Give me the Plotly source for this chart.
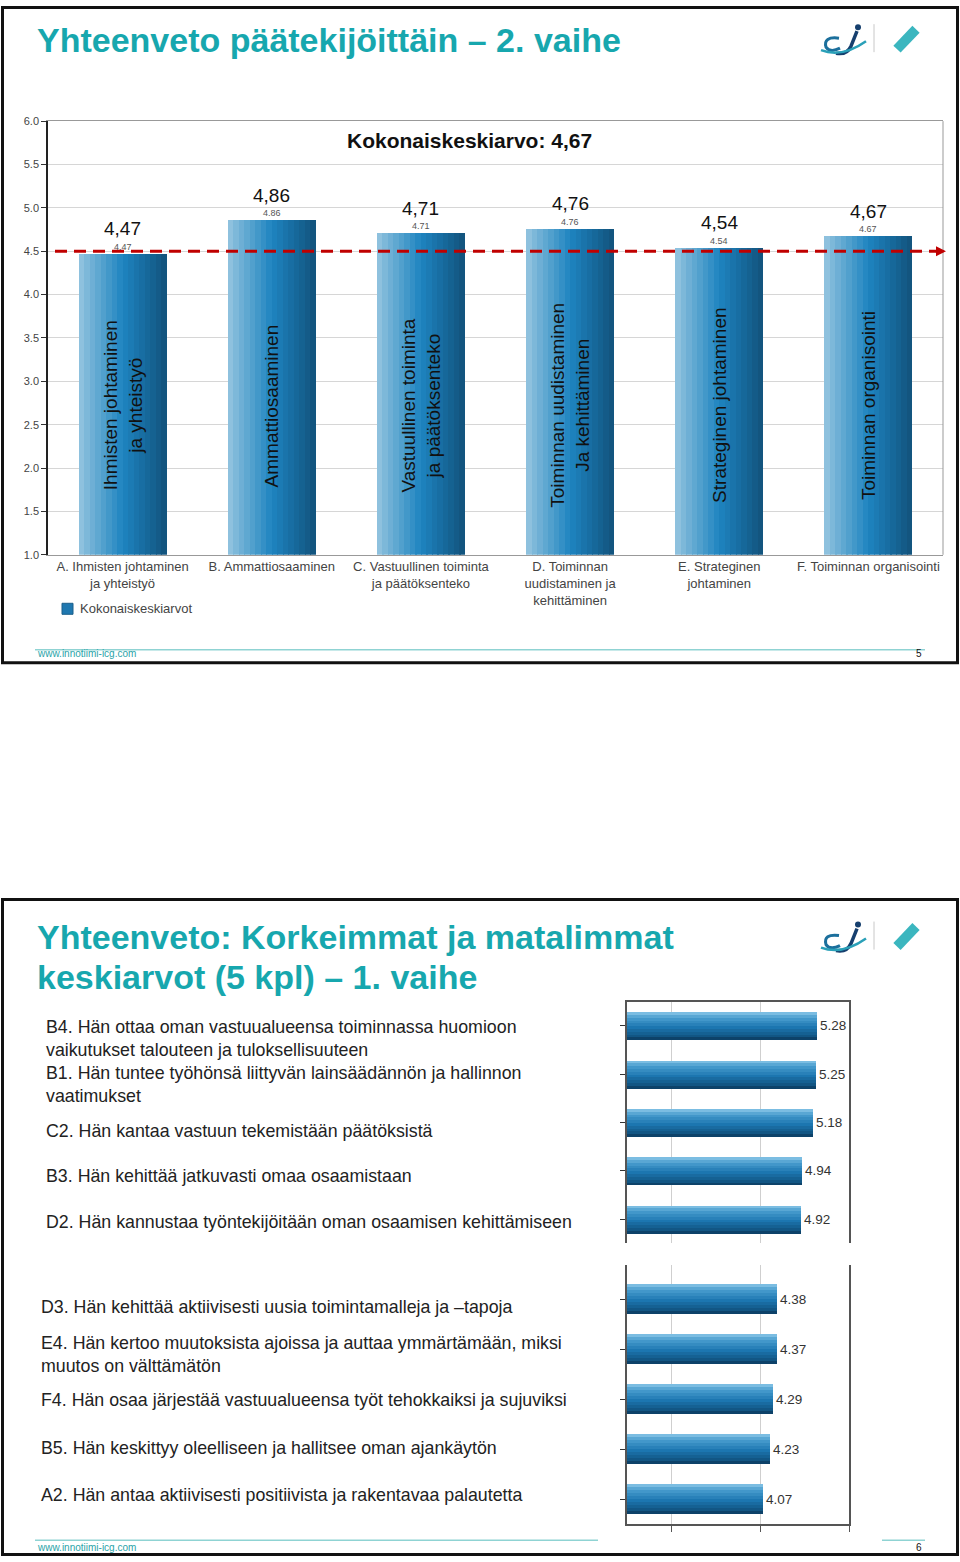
import plotly.graph_objects as go

# ---------------- DATA ----------------
top_categories = [
    "A. Ihmisten johtaminen<br>ja yhteistyö",
    "B. Ammattiosaaminen",
    "C. Vastuullinen toiminta<br>ja päätöksenteko",
    "D. Toiminnan<br>uudistaminen ja<br>kehittäminen",
    "E. Strateginen<br>johtaminen",
    "F. Toiminnan organisointi",
]
top_values = [4.47, 4.86, 4.71, 4.76, 4.54, 4.67]
top_inner_labels = [
    "Ihmisten johtaminen<br>ja yhteistyö",
    "Ammattiosaaminen",
    "Vastuullinen toiminta<br>ja päätöksenteko",
    "Toiminnan uudistaminen<br>Ja kehittäminen",
    "Strateginen johtaminen",
    "Toiminnan organisointi",
]
top_y_ticks = [1.0, 1.5, 2.0, 2.5, 3.0, 3.5, 4.0, 4.5, 5.0, 5.5, 6.0]
series_name = "Kokonaiskeskiarvot"
overall_mean_label = "Kokonaiskeskiarvo: 4,67"
reference_level = 4.5

high_items = [
    "B4. Hän ottaa oman vastuualueensa toiminnassa huomioon<br>vaikutukset talouteen ja tuloksellisuuteen",
    "B1. Hän tuntee työhönsä liittyvän lainsäädännön ja hallinnon<br>vaatimukset",
    "C2. Hän kantaa vastuun tekemistään päätöksistä",
    "B3. Hän kehittää jatkuvasti omaa osaamistaan",
    "D2. Hän kannustaa työntekijöitään oman osaamisen kehittämiseen",
]
high_values = [5.28, 5.25, 5.18, 4.94, 4.92]
low_items = [
    "D3. Hän kehittää aktiivisesti uusia toimintamalleja ja –tapoja",
    "E4. Hän kertoo muutoksista ajoissa ja auttaa ymmärtämään, miksi<br>muutos on välttämätön",
    "F4. Hän osaa järjestää vastuualueensa työt tehokkaiksi ja sujuviksi",
    "B5. Hän keskittyy oleelliseen ja hallitsee oman ajankäytön",
    "A2. Hän antaa aktiivisesti positiivista ja rakentavaa palautetta",
]
low_values = [4.38, 4.37, 4.29, 4.23, 4.07]
hbar_x_ticks = [2, 4, 6]

# ---------------- STYLE / LAYOUT HELPERS ----------------
W, H = 960, 1562
def px(x): return x / W
def py(y):
    # vertical placement helper (pixel from top -> paper fraction), with a small
    # correction so the rendered picture lines up with the target pixel rows
    s = (y - 5.8) / 0.993
    s = min(max(s, 1.5), H - 1.5)
    return 1 - s / H

SANS = "Liberation Sans, Arial, sans-serif"
TEAL = "#17a7ae"

def lerp(stops, t):
    for (t0, c0), (t1, c1) in zip(stops, stops[1:]):
        if t0 <= t <= t1:
            f = (t - t0) / (t1 - t0) if t1 > t0 else 0
            c = [round(a + (b - a) * f) for a, b in zip(c0, c1)]
            return "rgb(%d,%d,%d)" % tuple(c)
    return "rgb(%d,%d,%d)" % stops[-1][1]

vbar_stops = [(0, (150, 198, 224)), (0.12, (118, 180, 215)), (0.5, (30, 132, 192)),
              (0.8, (22, 102, 152)), (1, (18, 82, 122))]
hbar_stops = [(0, (140, 200, 232)), (0.2, (72, 156, 206)), (0.55, (28, 118, 176)),
              (0.85, (18, 86, 132)), (1, (10, 56, 92))]
LEGEND_BLUE = "#1f78b0"

fig = go.Figure()

# ---- top chart bars (horizontal gradient via strips) ----
NS = 16
BW = 0.59
step = BW / NS
for k in range(NS):
    col = lerp(vbar_stops, (k + 0.5) / NS)
    fig.add_trace(go.Bar(
        x=top_categories, y=top_values,
        width=step * (1.2 if k < NS - 1 else 1.0), offset=-BW / 2 + k * step,
        marker=dict(color=col, line=dict(width=0)),
        name=series_name, showlegend=False, hoverinfo="skip",
        xaxis="x", yaxis="y"))

# ---- horizontal bar panels ----
def add_hbars(values, xa, ya, bh, n=10):
    idx = list(range(len(values)))
    st = bh / n
    for k in range(n):
        col = lerp(hbar_stops, (k + 0.5) / n)
        fig.add_trace(go.Bar(
            x=values, y=idx, orientation="h",
            width=st * (1.25 if k < n - 1 else 1.0), offset=-bh / 2 + k * st,
            marker=dict(color=col, line=dict(width=0)),
            showlegend=False, hoverinfo="skip", xaxis=xa, yaxis=ya))

add_hbars(high_values, "x2", "y2", 0.58)
add_hbars(low_values, "x3", "y3", 0.60)

ann = []
shapes = []

# big and small value labels on top chart
for c, v in zip(top_categories, top_values):
    ann.append(dict(x=c, y=v, xref="x", yref="y", text=f"{v:.2f}".replace(".", ","),
                    showarrow=False, yshift=25, font=dict(family=SANS, size=19, color="#111")))
    ann.append(dict(x=c, y=v, xref="x", yref="y", text=f"{v:.2f}",
                    showarrow=False, yshift=7, font=dict(family=SANS, size=9, color="#555")))
# rotated labels inside bars
for c, t in zip(top_categories, top_inner_labels):
    ann.append(dict(x=c, y=2.72, xref="x", yref="y", text=t, textangle=-90,
                    showarrow=False, font=dict(family=SANS, size=19, color="#111")))
# overall mean heading
ann.append(dict(x=px(469), y=py(140), xref="paper", yref="paper", text="<b>%s</b>" % overall_mean_label,
                showarrow=False, yanchor="middle", font=dict(family=SANS, size=21, color="#111")))
# reference dashed line + arrowhead
shapes.append(dict(type="line", xref="paper", yref="y", x0=px(55), x1=px(938),
                   y0=reference_level, y1=reference_level,
                   line=dict(color="#c00000", width=3, dash="12px,7px")))
ann.append(dict(x=px(946), y=reference_level, xref="paper", yref="y", text="",
                showarrow=True, ax=-12, ay=0, arrowhead=2, arrowsize=1, arrowwidth=2,
                arrowcolor="#c00000"))
# right border of top plot
shapes.append(dict(type="line", xref="x domain", yref="y domain", x0=1, x1=1, y0=0, y1=1,
                   line=dict(color="#999", width=1)))

# legend (square + text)
shapes.append(dict(type="rect", xref="paper", yref="paper", x0=px(62), x1=px(73),
                   y0=py(614.5), y1=py(603.5), fillcolor=LEGEND_BLUE, line=dict(color="#1a5f8a", width=1)))
ann.append(dict(x=px(78), y=py(609), xref="paper", yref="paper", xanchor="left", yanchor="middle",
                text=series_name, showarrow=False, font=dict(family=SANS, size=13, color="#444")))

# value labels on horizontal bars
for i, v in enumerate(high_values):
    ann.append(dict(x=v, y=i, xref="x2", yref="y2", text=f"{v:.2f}", showarrow=False,
                    xanchor="left", xshift=1, font=dict(family=SANS, size=13.5, color="#333")))
for i, v in enumerate(low_values):
    ann.append(dict(x=v, y=i, xref="x3", yref="y3", text=f"{v:.2f}", showarrow=False,
                    xanchor="left", xshift=1, font=dict(family=SANS, size=13.5, color="#333")))

# item texts
high_label_px = [1039, 1085, 1132, 1177, 1223]
low_label_px = [1308, 1355, 1401, 1449, 1496]
for t, yy in zip(high_items, high_label_px):
    ann.append(dict(x=px(44), y=py(yy), xref="paper", yref="paper", text=t, showarrow=False,
                    xanchor="left", yanchor="middle", align="left",
                    font=dict(family=SANS, size=17.8, color="#222")))
for t, yy in zip(low_items, low_label_px):
    ann.append(dict(x=px(39), y=py(yy), xref="paper", yref="paper", text=t, showarrow=False,
                    xanchor="left", yanchor="middle", align="left",
                    font=dict(family=SANS, size=17.8, color="#222")))

# titles
ann.append(dict(x=px(35), y=py(40), xref="paper", yref="paper", xanchor="left", yanchor="middle",
                text="<b>Yhteenveto päätekijöittäin – 2. vaihe</b>", showarrow=False,
                font=dict(family=SANS, size=34, color=TEAL)))
ann.append(dict(x=px(35), y=py(937), xref="paper", yref="paper", xanchor="left", yanchor="middle",
                text="<b>Yhteenveto: Korkeimmat ja matalimmat</b>", showarrow=False,
                font=dict(family=SANS, size=34, color=TEAL)))
ann.append(dict(x=px(35), y=py(977), xref="paper", yref="paper", xanchor="left", yanchor="middle",
                text="<b>keskiarvot (5 kpl) – 1. vaihe</b>", showarrow=False,
                font=dict(family=SANS, size=34, color=TEAL)))

# footers
for ly, ty, num, segs in [(650, 654, "5", [(35, 925)]), (1541, 1548, "6", [(35, 598), (882, 925)])]:
    for a, b in segs:
        shapes.append(dict(type="line", xref="paper", yref="paper", x0=px(a), x1=px(b),
                           y0=py(ly), y1=py(ly), line=dict(color="#8fd3d3", width=1.5)))
    ann.append(dict(x=px(35), y=py(ty), xref="paper", yref="paper", xanchor="left", yanchor="middle",
                    text="www.innotiimi-icg.com", showarrow=False,
                    font=dict(family=SANS, size=10, color="#2aa3a8")))
    ann.append(dict(x=px(924), y=py(ty), xref="paper", yref="paper", xanchor="right", yanchor="middle",
                    text=num, showarrow=False, font=dict(family=SANS, size=10, color="#111")))

# slide borders
for y0, y1 in [(2, 663), (900, 1560)]:
    shapes.append(dict(type="rect", xref="paper", yref="paper", x0=px(2.5), x1=px(957.5),
                       y0=py(y0), y1=py(y1), line=dict(color="#111", width=3)))

# logos
def path(pts_cmd):
    out = []
    for cmd, pts in pts_cmd:
        out.append(cmd + " " + " ".join("%.5f,%.5f" % (px(x), py(y)) for x, y in pts))
    return " ".join(out)

for oy in [0, 898]:
    shapes.append(dict(type="path", xref="paper", yref="paper",
                       path=path([("M", [(839, 38 + oy)]), ("Q", [(823, 36 + oy), (826, 47 + oy)]),
                                  ("Q", [(830, 53 + oy), (840, 48 + oy)])]),
                       line=dict(color="#1b6f9c", width=3)))
    shapes.append(dict(type="path", xref="paper", yref="paper",
                       path=path([("M", [(857, 31 + oy)]), ("L", [(851, 46 + oy)]),
                                  ("Q", [(847, 55 + oy), (836, 53 + oy)])]),
                       line=dict(color="#163f6e", width=3.5)))
    shapes.append(dict(type="path", xref="paper", yref="paper",
                       path=path([("M", [(821, 50 + oy)]), ("Q", [(842, 58 + oy), (866, 41 + oy)])]),
                       line=dict(color="#2aa0b8", width=2.5)))
    shapes.append(dict(type="circle", xref="paper", yref="paper", x0=px(855), x1=px(861),
                       y0=py(30 + oy), y1=py(24 + oy), fillcolor="#163f6e", line=dict(width=0)))
    shapes.append(dict(type="line", xref="paper", yref="paper", x0=px(874), x1=px(874),
                       y0=py(24 + oy), y1=py(52 + oy), line=dict(color="#c8c8c8", width=1)))
    shapes.append(dict(type="line", xref="paper", yref="paper", x0=px(897), x1=px(916),
                       y0=py(49 + oy), y1=py(29 + oy), line=dict(color="#3bb6bf", width=10)))

fig.update_layout(
    width=W, height=H, margin=dict(l=0, r=0, t=0, b=0, pad=0), autosize=False,
    paper_bgcolor="white", plot_bgcolor="white",
    barmode="overlay", bargap=0, showlegend=False,
    annotations=ann, shapes=shapes,
    xaxis=dict(domain=[px(48), px(943)], anchor="y", type="category",
               showline=True, linecolor="#999", linewidth=1, mirror=True, ticks="",
               tickfont=dict(family=SANS, size=13, color="#444"), showgrid=False),
    yaxis=dict(domain=[py(555), py(121)], anchor="x", range=[1, 6], tickvals=top_y_ticks,
               tickformat=".1f", showline=True, linecolor="#222", linewidth=1.5,
               ticks="outside", ticklen=5, tickcolor="#333",
               tickfont=dict(family=SANS, size=11, color="#444"),
               showgrid=True, gridcolor="#d6d6d6", gridwidth=1, zeroline=False),
    xaxis2=dict(domain=[px(627), px(849)], anchor="y2", range=[1, 6], tickvals=hbar_x_ticks,
                showticklabels=False, showgrid=True, gridcolor="#cfcfcf", side="top",
                showline=True, linecolor="#555", linewidth=1.5, ticks="", zeroline=False),
    yaxis2=dict(domain=[py(1244), py(1002)], anchor="x2", range=[4.5, -0.5],
                tickvals=list(range(len(high_values))), showticklabels=False,
                ticks="outside", ticklen=5, tickcolor="#333", showgrid=False,
                showline=True, linecolor="#555", linewidth=1.5, mirror=True, zeroline=False),
    xaxis3=dict(domain=[px(627), px(849)], anchor="y3", range=[1, 6], tickvals=hbar_x_ticks,
                showticklabels=False, showgrid=True, gridcolor="#cfcfcf", side="bottom",
                showline=True, linecolor="#555", linewidth=1.5, ticks="outside", ticklen=6,
                tickcolor="#555", zeroline=False),
    yaxis3=dict(domain=[py(1525), py(1266)], anchor="x3", range=[4.5, -0.68],
                tickvals=list(range(len(low_values))), showticklabels=False,
                ticks="outside", ticklen=5, tickcolor="#333", showgrid=False,
                showline=True, linecolor="#555", linewidth=1.5, mirror=True, zeroline=False),
)

fig.write_html("out.html")
